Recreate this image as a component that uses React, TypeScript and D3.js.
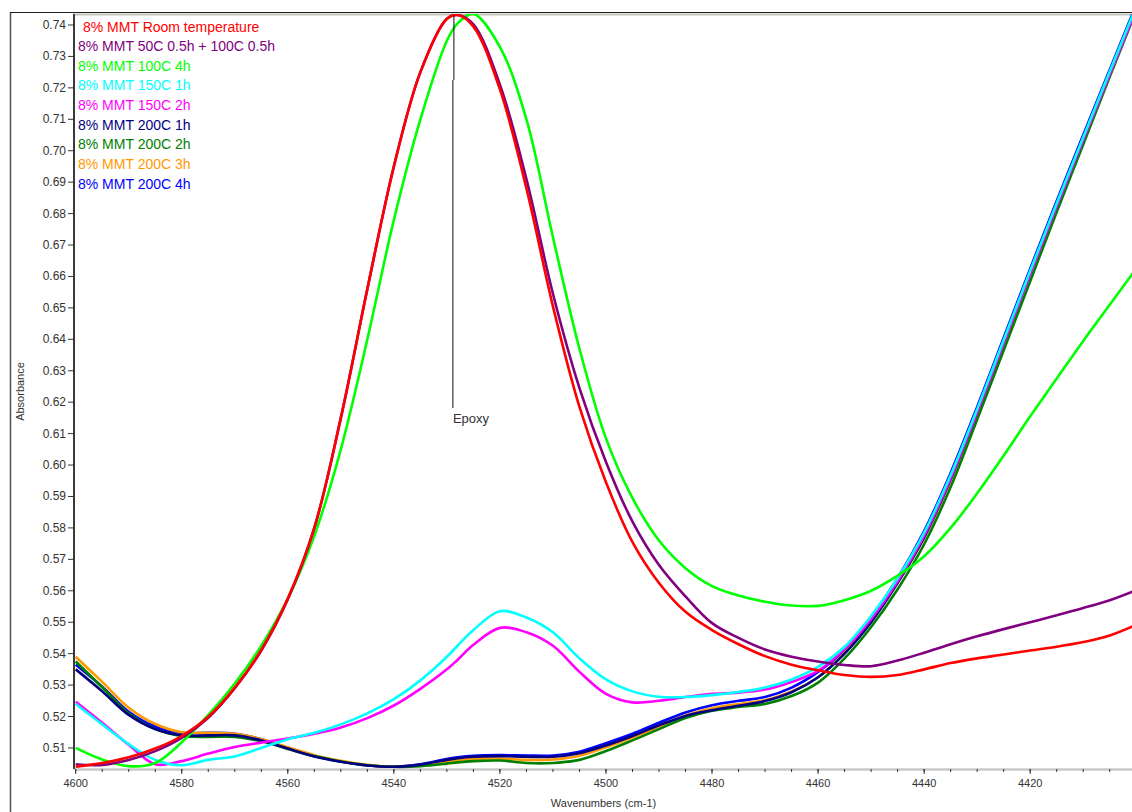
import React from 'react';
import * as d3 from 'd3';

// wavenumber grid (cm-1), every 5 units (+ 4528 at the epoxy peak)
const wavenumbers = [
  4600, 4595, 4590, 4585, 4580, 4575, 4570, 4565, 4560, 4555, 4550, 4545, 4540, 4535, 4530, 4528,
  4525, 4520, 4515, 4510, 4505, 4500, 4495, 4490, 4485, 4480, 4475, 4470, 4465, 4460, 4455, 4450,
  4445, 4440, 4435, 4430, 4425, 4420, 4415, 4410, 4405, 4400,
];

const roomTemp = [
  0.5040, 0.5052, 0.5070, 0.5098, 0.5138, 0.5199, 0.5292, 0.5412, 0.5575, 0.5800, 0.6150, 0.6560, 0.6950, 0.7250, 0.7420, 0.7432,
  0.7395, 0.7195, 0.6880, 0.6505, 0.6185, 0.5945, 0.5755, 0.5625, 0.5533, 0.5475, 0.5430, 0.5392, 0.5365, 0.5347, 0.5332, 0.5326,
  0.5332, 0.5350, 0.5370, 0.5385, 0.5397, 0.5410, 0.5422, 0.5437, 0.5458, 0.5492,
];
const c50c100 = [
  0.5048, 0.5046, 0.5062, 0.5090, 0.5132, 0.5196, 0.5290, 0.5410, 0.5573, 0.5800, 0.6150, 0.6560, 0.6950, 0.7250, 0.7420, 0.7432,
  0.7402, 0.7210, 0.6910, 0.6545, 0.6245, 0.6010, 0.5820, 0.5682, 0.5582, 0.5497, 0.5450, 0.5413, 0.5390, 0.5375, 0.5364, 0.5360,
  0.5378, 0.5403, 0.5430, 0.5455, 0.5478, 0.5500, 0.5522, 0.5545, 0.5570, 0.5602,
];
const c100_4h = [
  0.5100, 0.5063, 0.5042, 0.5052, 0.5118, 0.5205, 0.5305, 0.5425, 0.5575, 0.5775, 0.6050, 0.6400, 0.6780, 0.7100, 0.7350, 0.7405,
  0.7435, 0.7330, 0.7100, 0.6725, 0.6370, 0.6085, 0.5895, 0.5760, 0.5672, 0.5615, 0.5585, 0.5565, 0.5553, 0.5552, 0.5570, 0.5600,
  0.5648, 0.5710, 0.5800, 0.5910, 0.6030, 0.6155, 0.6275, 0.6395, 0.6510, 0.6625,
];
const c150_1h = [
  0.5240, 0.5175, 0.5112, 0.5062, 0.5045, 0.5062, 0.5073, 0.5100, 0.5128, 0.5148, 0.5175, 0.5210, 0.5255, 0.5315, 0.5390, 0.5425,
  0.5475, 0.5535, 0.5515, 0.5468, 0.5385, 0.5318, 0.5280, 0.5263, 0.5262, 0.5268, 0.5278, 0.5292, 0.5318, 0.5358, 0.5422, 0.5520,
  0.5640, 0.5785, 0.5968, 0.6178, 0.6398, 0.6618, 0.6833, 0.7043, 0.7252, 0.7460,
];
const c150_2h = [
  0.5247, 0.5180, 0.5110, 0.5048, 0.5058, 0.5082, 0.5103, 0.5117, 0.5130, 0.5145, 0.5165, 0.5195, 0.5235, 0.5288, 0.5350, 0.5380,
  0.5428, 0.5482, 0.5468, 0.5425, 0.5342, 0.5272, 0.5245, 0.5250, 0.5262, 0.5272, 0.5276, 0.5286, 0.5310, 0.5345, 0.5415, 0.5510,
  0.5630, 0.5775, 0.5958, 0.6168, 0.6388, 0.6608, 0.6823, 0.7035, 0.7243, 0.7450,
];
const c200_1h = [
  0.5350, 0.5280, 0.5205, 0.5160, 0.5140, 0.5140, 0.5140, 0.5124, 0.5098, 0.5073, 0.5056, 0.5044, 0.5040, 0.5047, 0.5062, 0.5067,
  0.5072, 0.5074, 0.5072, 0.5072, 0.5083, 0.5108, 0.5138, 0.5172, 0.5202, 0.5220, 0.5234, 0.5249, 0.5277, 0.5325, 0.5400, 0.5500,
  0.5625, 0.5770, 0.5955, 0.6168, 0.6390, 0.6610, 0.6830, 0.7042, 0.7250, 0.7458,
];
const c200_2h = [
  0.5375, 0.5293, 0.5210, 0.5160, 0.5138, 0.5135, 0.5135, 0.5121, 0.5097, 0.5074, 0.5057, 0.5045, 0.5040, 0.5042, 0.5050, 0.5054,
  0.5058, 0.5060, 0.5052, 0.5052, 0.5062, 0.5090, 0.5124, 0.5160, 0.5195, 0.5218, 0.5230, 0.5240, 0.5265, 0.5308, 0.5385, 0.5485,
  0.5605, 0.5748, 0.5930, 0.6145, 0.6365, 0.6585, 0.6805, 0.7020, 0.7235, 0.7445,
];
const c200_3h = [
  0.5390, 0.5310, 0.5228, 0.5176, 0.5150, 0.5148, 0.5145, 0.5128, 0.5102, 0.5077, 0.5059, 0.5046, 0.5040, 0.5045, 0.5057, 0.5061,
  0.5065, 0.5066, 0.5062, 0.5063, 0.5075, 0.5102, 0.5133, 0.5168, 0.5203, 0.5226, 0.5240, 0.5252, 0.5280, 0.5325, 0.5402, 0.5503,
  0.5625, 0.5768, 0.5952, 0.6165, 0.6385, 0.6605, 0.6825, 0.7038, 0.7248, 0.7455,
];
const c200_4h = [
  0.5365, 0.5295, 0.5215, 0.5168, 0.5148, 0.5148, 0.5145, 0.5128, 0.5100, 0.5075, 0.5057, 0.5045, 0.5040, 0.5048, 0.5065, 0.5070,
  0.5075, 0.5077, 0.5076, 0.5076, 0.5088, 0.5115, 0.5145, 0.5180, 0.5213, 0.5236, 0.5250, 0.5262, 0.5292, 0.5342, 0.5412, 0.5515,
  0.5640, 0.5790, 0.5975, 0.6185, 0.6405, 0.6625, 0.6840, 0.7050, 0.7258, 0.7465,
];

const seriesNames = [
  '8% MMT Room temperature',
  '8% MMT 50C 0.5h + 100C 0.5h',
  '8% MMT 100C 4h',
  '8% MMT 150C 1h',
  '8% MMT 150C 2h',
  '8% MMT 200C 1h',
  '8% MMT 200C 2h',
  '8% MMT 200C 3h',
  '8% MMT 200C 4h',
];
const seriesValues = [roomTemp, c50c100, c100_4h, c150_1h, c150_2h, c200_1h, c200_2h, c200_3h, c200_4h];
const seriesColors = ['#ff0000', '#800080', '#00ff00', '#00ffff', '#ff00ff', '#000080', '#008000', '#ff9900', '#0000ff'];

const xTickLabels = [4600, 4580, 4560, 4540, 4520, 4500, 4480, 4460, 4440, 4420];
const annotationText = 'Epoxy';
const annotationAt = 4528.3;

const FONT = '"Liberation Sans", Arial, sans-serif';

export default function App() {
  const width = 1132;
  const height = 812;
  const left = 75, right = 1132, top = 14, bottom = 769;

  const x = d3.scaleLinear().domain([4600, 4400.8]).range([75.7, right]);
  const y = d3.scaleLinear().domain([0.5033, 0.7435]).range([bottom, top]);

  const line = d3
    .line<number>()
    .x((_, i) => x(wavenumbers[i]))
    .y(d => y(d))
    .curve(d3.curveCatmullRom.alpha(0.5));

  const yMajor = d3.range(51, 75).map(v => v / 100);
  const yMinor = d3.range(2516, 3718).map(v => v / 5000).filter(v => v >= 0.5034 && v <= 0.7434);
  const xMinor = d3.range(4600, 4400, -5);

  const ax = annotationAt;

  return (
    <svg width={width} height={height} style={{ position: 'absolute', left: 0, top: 0, background: '#fff' }}>
      <defs>
        <clipPath id="plot">
          <rect x={left} y={top} width={right - left} height={bottom - top} />
        </clipPath>
      </defs>

      {/* outer frame */}
      <line x1={10.5} y1={12} x2={10.5} y2={height} stroke="#505050" strokeWidth={1.5} />
      <line x1={10} y1={12.5} x2={width} y2={12.5} stroke="#202020" strokeWidth={1} />
      <line x1={left} y1={14.5} x2={width} y2={14.5} stroke="#c4c4bc" strokeWidth={2} />

      {/* y axis */}
      <line x1={74} y1={top} x2={74} y2={bottom} stroke="#c8c8c8" strokeWidth={2} />
      {yMinor.map((v, i) => (
        <line key={'ym' + i} x1={73} x2={75} y1={y(v)} y2={y(v)} stroke="#333" strokeWidth={1} />
      ))}
      {yMajor.map(v => (
        <g key={'y' + v}>
          <line x1={68} x2={75} y1={y(v)} y2={y(v)} stroke="#333" strokeWidth={1} />
          <text x={66} y={y(v) + 4} textAnchor="end" fontFamily={FONT} fontSize={12} fill="#333">
            {v.toFixed(2)}
          </text>
        </g>
      ))}

      {/* x axis */}
      <line x1={left} y1={769.5} x2={right} y2={769.5} stroke="#c8c8c8" strokeWidth={2.5} />
      {xMinor.map(v => (
        <line key={'xm' + v} x1={x(v)} x2={x(v)} y1={769} y2={772} stroke="#333" strokeWidth={1} />
      ))}
      {xTickLabels.map(v => (
        <g key={'x' + v}>
          <line x1={x(v)} x2={x(v)} y1={769} y2={774} stroke="#333" strokeWidth={1} />
          <text x={x(v)} y={787} textAnchor="middle" fontFamily={FONT} fontSize={11} fill="#333">
            {v}
          </text>
        </g>
      ))}
      <text x={(left + right) / 2} y={807} textAnchor="middle" fontFamily={FONT} fontSize={11} fill="#333">
        Wavenumbers (cm-1)
      </text>
      <text
        transform={`translate(24, ${(top + bottom) / 2}) rotate(-90)`}
        textAnchor="middle"
        fontFamily={FONT}
        fontSize={11}
        fill="#333"
      >
        Absorbance
      </text>

      {/* spectra, drawn last-to-first so the first legend entry sits on top */}
      <g clipPath="url(#plot)">
        {seriesValues
          .map((vals, i) => ({ vals, i }))
          .reverse()
          .map(({ vals, i }) => (
            <path key={seriesNames[i]} d={line(vals) || ''} fill="none" stroke={seriesColors[i]} strokeWidth={2.6} />
          ))}
      </g>

      {/* annotation */}
      <line x1={x(ax) - 2} x2={x(ax) - 2} y1={15} y2={80} stroke="#111" strokeWidth={1} />
      <line x1={x(ax) - 3} x2={x(ax) - 3} y1={80} y2={408} stroke="#111" strokeWidth={1} />
      <text x={x(ax) - 3} y={423} fontFamily={FONT} fontSize={13} fill="#333">
        {annotationText}
      </text>

      {/* legend */}
      {seriesNames.map((name, i) => (
        <text
          key={'lg' + i}
          x={i === 0 ? 83 : 78}
          y={31.5 + i * 19.63}
          fontFamily={FONT}
          fontSize={14}
          fill={seriesColors[i]}
        >
          {name}
        </text>
      ))}
    </svg>
  );
}
